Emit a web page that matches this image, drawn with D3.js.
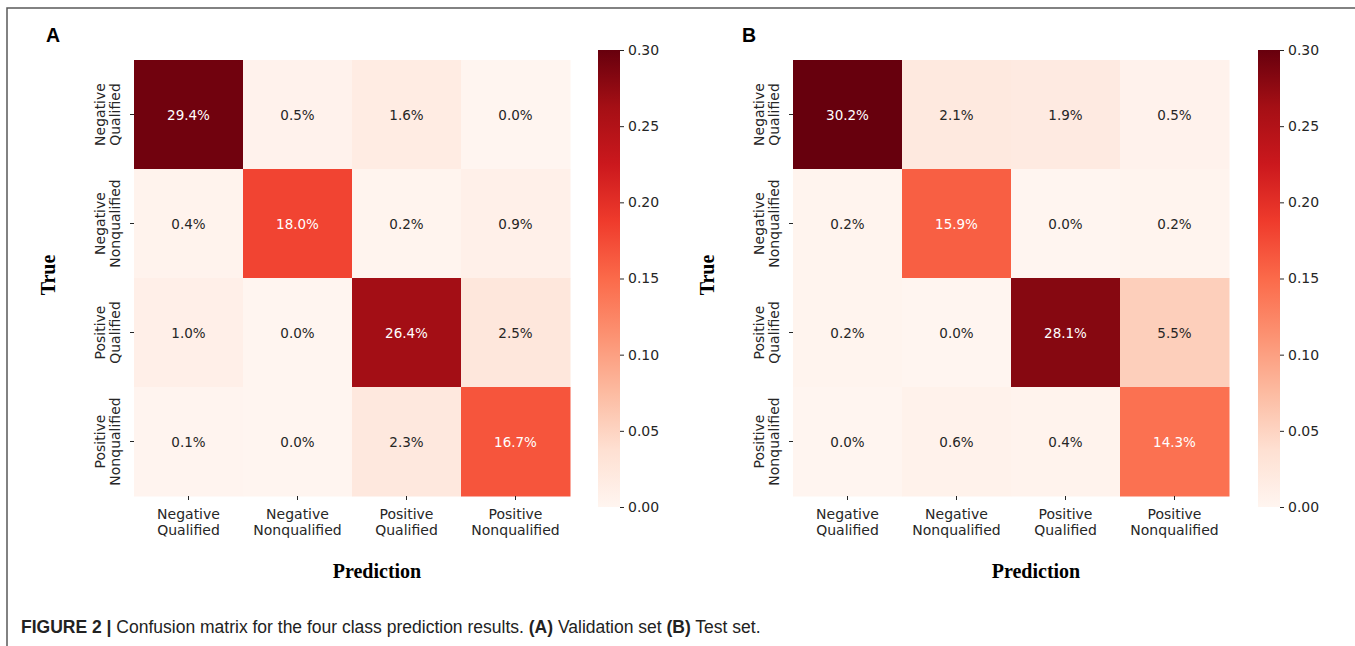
<!DOCTYPE html>
<html lang="en">
<head>
    <meta charset="UTF-8">
    <title>Confusion matrix</title>
    <script src="https://d3js.org/d3.v7.min.js"></script>
    <style>
        body { margin: 0; background: #fff; }
        svg text { font-family: "DejaVu Sans", sans-serif; }
    </style>
</head>
<body>
    <svg id="chart" width="1355" height="646"></svg>

    <script>
        // datos
        const classes = ["Negative Qualified", "Negative Nonqualified", "Positive Qualified", "Positive Nonqualified"];
        // porcentajes, fila = True, columna = Prediction
        const matrixA = [
            [29.4, 0.5, 1.6, 0.0],
            [0.4, 18.0, 0.2, 0.9],
            [1.0, 0.0, 26.4, 2.5],
            [0.1, 0.0, 2.3, 16.7]
        ];
        const matrixB = [
            [30.2, 2.1, 1.9, 0.5],
            [0.2, 15.9, 0.0, 0.2],
            [0.2, 0.0, 28.1, 5.5],
            [0.0, 0.6, 0.4, 14.3]
        ];
        const cbTicks = [0.00, 0.05, 0.10, 0.15, 0.20, 0.25, 0.30];
        const vmax = 0.30;

        const svg = d3.select("#chart");

        // marco de la figura
        svg.append("path")
           .attr("d", "M7,646 L7,8 L1355,8")
           .attr("fill", "none")
           .attr("stroke", "#5a5a5a")
           .attr("stroke-width", 1.5);

        // escala de color tipo "Reds" de matplotlib
        const reds = d3.schemeReds[9];
        const color = d3.scaleLinear()
                        .domain(reds.map((c, i) => i / (reds.length - 1) * vmax))
                        .range(reds)
                        .clamp(true);

        function luminance(c) {
            const rgb = d3.rgb(c);
            const f = v => { v /= 255; return v <= 0.03928 ? v / 12.92 : Math.pow((v + 0.055) / 1.055, 2.4); };
            return 0.2126 * f(rgb.r) + 0.7152 * f(rgb.g) + 0.0722 * f(rgb.b);
        }

        function drawPanel(matrix, opts) {
            const g = svg.append("g");
            const size = 436;

            const x = d3.scaleBand().domain(classes).range([opts.x0, opts.x0 + size]);
            const y = d3.scaleBand().domain(classes).range([opts.y0, opts.y0 + size]);

            const cells = [];
            matrix.forEach((row, i) => row.forEach((v, j) => cells.push({r: classes[i], c: classes[j], v: v})));

            // celdas
            g.selectAll("rect.cell")
             .data(cells)
             .enter()
             .append("rect")
             .attr("class", "cell")
             .attr("x", d => x(d.c))
             .attr("y", d => y(d.r))
             .attr("width", x.bandwidth() + 0.5)
             .attr("height", y.bandwidth() + 0.5)
             .attr("fill", d => color(d.v / 100));

            // anotaciones
            g.selectAll("text.annot")
             .data(cells)
             .enter()
             .append("text")
             .attr("class", "annot")
             .attr("x", d => x(d.c) + x.bandwidth() / 2)
             .attr("y", d => y(d.r) + y.bandwidth() / 2)
             .attr("text-anchor", "middle")
             .attr("dominant-baseline", "central")
             .attr("font-size", "13.5px")
             .attr("fill", d => luminance(color(d.v / 100)) < 0.408 ? "#ffffff" : "#262626")
             .text(d => d.v.toFixed(1) + "%");

            // eje X
            const xAxis = g.append("g")
                           .attr("transform", `translate(0,${opts.y0 + size})`)
                           .call(d3.axisBottom(x).tickSize(4).tickFormat(""));
            xAxis.select(".domain").remove();
            xAxis.selectAll("line").attr("stroke", "#262626");
            xAxis.selectAll(".tick").each(function(d) {
                const parts = d.split(" ");
                const t = d3.select(this).append("text")
                            .attr("fill", "#262626")
                            .attr("font-size", "14px")
                            .attr("text-anchor", "middle");
                t.append("tspan").attr("x", 0).attr("y", 23).text(parts[0]);
                t.append("tspan").attr("x", 0).attr("y", 39).text(parts[1]);
            });

            // eje Y
            const yAxis = g.append("g")
                           .attr("transform", `translate(${opts.x0},0)`)
                           .call(d3.axisLeft(y).tickSize(4).tickFormat(""));
            yAxis.select(".domain").remove();
            yAxis.selectAll("line").attr("stroke", "#262626");
            yAxis.selectAll(".tick").each(function(d) {
                const parts = d.split(" ");
                const t = d3.select(this).append("text")
                            .attr("fill", "#262626")
                            .attr("font-size", "14px")
                            .attr("text-anchor", "middle")
                            .attr("transform", "rotate(-90)");
                t.append("tspan").attr("x", 0).attr("y", -29).text(parts[0]);
                t.append("tspan").attr("x", 0).attr("y", -14).text(parts[1]);
            });

            // títulos de ejes
            g.append("text")
             .attr("x", opts.x0 + size / 2 + 25)
             .attr("y", 578)
             .attr("text-anchor", "middle")
             .attr("font-weight", "bold")
             .attr("font-size", "20px")
             .style("font-family", "'Liberation Serif', serif")
             .text("Prediction");

            g.append("text")
             .attr("transform", `translate(${opts.x0 - 79},${opts.y0 + size / 2 - 3}) rotate(-90)`)
             .attr("text-anchor", "middle")
             .attr("font-weight", "bold")
             .attr("font-size", "20px")
             .style("font-family", "'Liberation Serif', serif")
             .text("True");

            // etiqueta del panel
            g.append("text")
             .attr("x", opts.labelX)
             .attr("y", 42)
             .attr("font-weight", "bold")
             .attr("font-size", "19.5px")
             .style("font-family", "'Liberation Sans', Arial, sans-serif")
             .text(opts.label);

            // barra de color
            const cb = {x: opts.cbX, w: 22, top: 50, bottom: 507};
            const gradId = "grad" + opts.label;
            const grad = svg.append("defs").append("linearGradient")
                            .attr("id", gradId)
                            .attr("x1", 0).attr("y1", 1).attr("x2", 0).attr("y2", 0);
            grad.selectAll("stop")
                .data(reds)
                .enter()
                .append("stop")
                .attr("offset", (d, i) => i / (reds.length - 1))
                .attr("stop-color", d => d);

            g.append("rect")
             .attr("x", cb.x)
             .attr("y", cb.top)
             .attr("width", cb.w)
             .attr("height", cb.bottom - cb.top)
             .attr("fill", `url(#${gradId})`);

            const cbScale = d3.scaleLinear().domain([0, vmax]).range([cb.bottom, cb.top]);
            const cbAxis = g.append("g")
                            .attr("transform", `translate(${cb.x + cb.w},0)`)
                            .call(d3.axisRight(cbScale).tickValues(cbTicks).tickSize(4).tickPadding(4).tickFormat(d3.format(".2f")));
            cbAxis.select(".domain").remove();
            cbAxis.selectAll("line").attr("stroke", "#262626");
            cbAxis.selectAll("text")
                  .attr("fill", "#262626")
                  .attr("font-size", "14px")
                  .style("font-family", "'DejaVu Sans', sans-serif");
        }

        drawPanel(matrixA, {x0: 134, y0: 60, cbX: 598, label: "A", labelX: 46});
        drawPanel(matrixB, {x0: 793, y0: 60, cbX: 1258, label: "B", labelX: 742});

        // pie de figura
        const cap = svg.append("text")
                       .attr("x", 21)
                       .attr("y", 633)
                       .attr("font-size", "17.5px")
                       .attr("fill", "#222")
                       .style("font-family", "'Liberation Sans', Arial, sans-serif");
        cap.append("tspan").attr("font-weight", "bold").text("FIGURE 2 | ");
        cap.append("tspan").text("Confusion matrix for the four class prediction results. ");
        cap.append("tspan").attr("font-weight", "bold").text("(A)");
        cap.append("tspan").text(" Validation set ");
        cap.append("tspan").attr("font-weight", "bold").text("(B)");
        cap.append("tspan").text(" Test set.");
    </script>
</body>
</html>
